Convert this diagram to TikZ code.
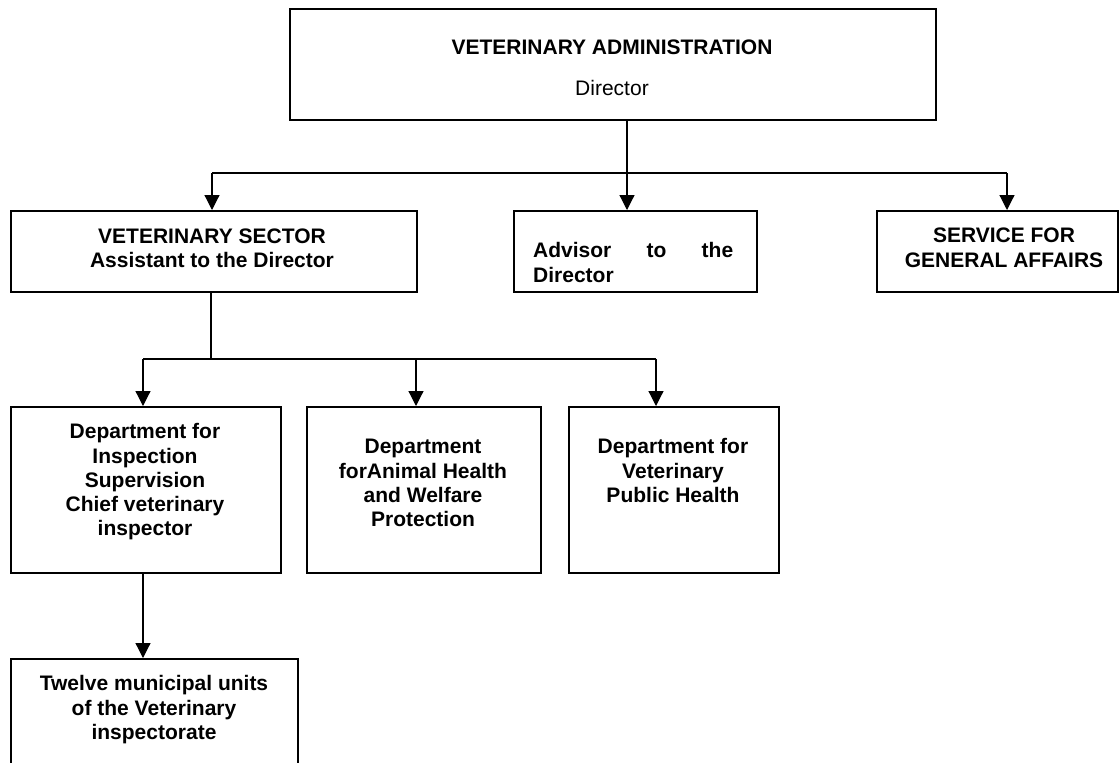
\documentclass[tikz,border=0pt]{standalone}
\usepackage{fontspec}
\setmainfont{Liberation Sans}
\usetikzlibrary{arrows.meta}
\begin{document}
\begin{tikzpicture}[x=1pt,y=-1pt,
  box/.style={draw, line width=1.6pt, rectangle, inner sep=0pt, anchor=north west},
  lbl/.style={inner sep=0pt, anchor=north, align=center,
              font=\fontsize{21}{24.3}\selectfont\bfseries},
  link/.style={line width=1.2pt},
  arr/.style={link, -{Triangle[width=15pt,length=15pt]}}]
\clip (0,0) rectangle (1120,763);
\fill[white] (0,0) rectangle (1120,763);

% boxes
\node[box, minimum width=646pt, minimum height=111pt] (admin)  at (289,8)   {};
\node[box, minimum width=406pt, minimum height=81pt]  (sector) at (10,210)  {};
\node[box, minimum width=243pt, minimum height=81pt]  (advis)  at (513,210) {};
\node[box, minimum width=241pt, minimum height=81pt]  (serv)   at (876,210) {};
\node[box, minimum width=270pt, minimum height=166pt] (insp)   at (10,406)  {};
\node[box, minimum width=234pt, minimum height=166pt] (anim)   at (306,406) {};
\node[box, minimum width=210pt, minimum height=166pt] (vph)    at (568,406) {};
\node[box, minimum width=287pt, minimum height=140pt] (units)  at (10,658)  {};

% texts
\node[inner sep=0pt, anchor=base, font=\fontsize{21}{24.3}\selectfont\bfseries]
  (admin-t) at (612,54.5) {VETERINARY ADMINISTRATION};
\node[inner sep=0pt, anchor=base, font=\fontsize{21}{24.3}\selectfont]
  (admin-d) at (612,95.5) {Director};
\node[lbl] (sector-t) at (212,226) {\strut VETERINARY SECTOR\\Assistant to the Director};
\node[lbl, anchor=north west, align=left] (advis-t) at (533,240.5)
  {\strut\makebox[200pt][s]{Advisor to the}\\Director};
\node[lbl] (serv-t) at (1004,225.5) {\strut SERVICE FOR\\GENERAL AFFAIRS};
\node[lbl] (insp-t) at (145,421.5)
  {\strut Department for\\Inspection\\Supervision\\Chief veterinary\\inspector};
\node[lbl] (anim-t) at (423,436.5)
  {\strut Department\\forAnimal Health\\and Welfare\\Protection};
\node[lbl] (vph-t) at (673,436.5)
  {\strut Department for\\Veterinary\\Public Health};
\node[lbl] (units-t) at (154,673.5)
  {\strut Twelve municipal units\\of the Veterinary\\inspectorate};

% junction points
\coordinate (top-l) at (212,173);
\coordinate (top-m) at (627,173);
\coordinate (top-r) at (1007,173);
\coordinate (mid-c) at (211,359);
\coordinate (mid-l) at (143,359);
\coordinate (mid-m) at (416,359);
\coordinate (mid-r) at (656,359);

% connectors from the administration
\draw[arr] (admin.south -| top-m) -- (advis.north -| top-m);
\draw[link] (top-l) -- (top-r);
\draw[arr] (top-l) -- (sector.north -| top-l);
\draw[arr] (top-r) -- (serv.north -| top-r);

% connectors from the veterinary sector
\draw[link] (sector.south -| mid-c) -- (mid-c);
\draw[link] (mid-l) -- (mid-r);
\draw[arr] (mid-l) -- (insp.north -| mid-l);
\draw[arr] (mid-m) -- (anim.north -| mid-m);
\draw[arr] (mid-r) -- (vph.north -| mid-r);

% inspection to municipal units
\draw[arr] (insp.south -| mid-l) -- (units.north -| mid-l);
\end{tikzpicture}
\end{document}
